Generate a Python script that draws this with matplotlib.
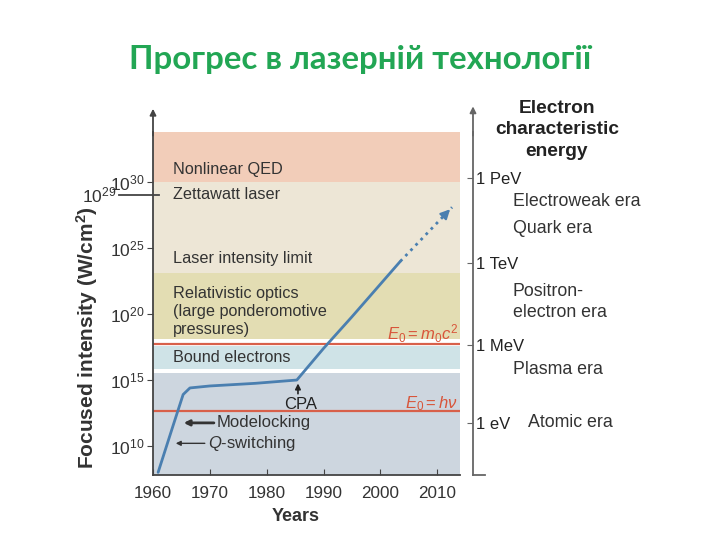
import matplotlib.pyplot as plt
import matplotlib.transforms as mtransforms

plt.rcParams['font.family'] = ['Liberation Sans', 'DejaVu Sans']
plt.rcParams['mathtext.fontset'] = 'custom'
plt.rcParams['mathtext.rm'] = 'Liberation Sans'
plt.rcParams['mathtext.it'] = 'Liberation Sans:italic'
plt.rcParams['mathtext.bf'] = 'Liberation Sans:bold'

# progress curve: year vs log10 of focused intensity (W/cm2)
years = [1960.9, 1963.5, 1965.3, 1966.5, 1970, 1978, 1985.3, 1990, 1995, 2003.5]
log_int = [8.0, 11.5, 13.9, 14.4, 14.55, 14.75, 15.0, 17.4, 19.8, 24.0]
future_years = [2003.5, 2012.6]
future_log = [24.0, 28.1]

# regimes as bands (log10 bounds)
band_lo = [30.0, 23.1, 18.1, 15.8, 7.8]
band_hi = [33.8, 30.0, 23.1, 17.6, 15.55]
band_colors = ['#f2cdb9', '#ede6d6', '#e3ddb3', '#cfe3e7', '#cdd6df']
band_labels = [('Nonlinear QED', 31.0), ('Zettawatt laser', 29.1),
               ('Laser intensity limit', 24.2),
               ('Relativistic optics\n(large ponderomotive\npressures)', 20.2),
               ('Bound electrons', 16.7)]

red_lines = [17.7, 12.65]
red_labels = [r'$E_0 = m_0c^2$', r'$E_0 = h\nu$']

x_ticks = [1960, 1970, 1980, 1990, 2000, 2010]
y_ticks = [10, 15, 20, 25, 30]

energy_ticks = [30.3, 23.9, 17.65, 11.75]
energy_labels = ['1 PeV', '1 TeV', '1 MeV', '1 eV']
eras = [('Electroweak era', 28.5), ('Quark era', 26.5),
        ('Positron-\nelectron era', 20.9), ('Plasma era', 15.8)]

fig = plt.figure(figsize=(7.2, 5.4), dpi=100)
ax = fig.add_axes([0.2125, 0.1204, 0.4264, 0.635])
ax.set_xlim(1960, 2014)
ax.set_ylim(7.8, 33.8)

for lo, hi, c in zip(band_lo, band_hi, band_colors):
    ax.axhspan(lo, hi, color=c, lw=0, zorder=0)
for txt, y in band_labels:
    ax.text(1963.5, y, txt, fontsize=11.7, color='#333333', va='center',
            linespacing=1.25)
for y in red_lines:
    ax.axhline(y, color='#d8604a', lw=1.6, zorder=1)
ax.text(2013.6, 18.5, red_labels[0], color='#d8553a', fontsize=12, ha='right', va='center')
ax.text(2013.6, 13.2, red_labels[1], color='#d8553a', fontsize=12, ha='right', va='center')

ax.plot(years, log_int, color='#4a7fb0', lw=2.0, solid_capstyle='round', zorder=3)
ax.plot(future_years, future_log, color='#4a7fb0', lw=2.0, ls=':', zorder=3)
ax.annotate('', xy=(future_years[1], future_log[1]), xytext=(2011.4, 27.56),
            arrowprops=dict(arrowstyle='-|>', color='#4a7fb0', lw=1.5,
                            mutation_scale=14), zorder=4)

# annotations
ax.annotate('', xy=(1985.5, 14.95), xytext=(1985.5, 13.75),
            arrowprops=dict(arrowstyle='-|>', color='#222222', lw=1.2, mutation_scale=8))
ax.text(1986.0, 13.15, 'CPA', fontsize=12, ha='center', va='center', color='#222222')
ax.annotate('Modelocking', xy=(1965.4, 11.75), xytext=(1971.2, 11.75),
            fontsize=12, va='center', color='#333333',
            arrowprops=dict(arrowstyle='-|>', color='#333333', lw=2.0, mutation_scale=8,
                            shrinkA=0, shrinkB=0))
ax.annotate(r'$Q$-switching', xy=(1964.0, 10.2), xytext=(1969.6, 10.2),
            fontsize=12, va='center', color='#333333',
            arrowprops=dict(arrowstyle='-|>', color='#333333', lw=1.0, mutation_scale=7,
                            shrinkA=0, shrinkB=0))

# axes styling
for s in ['top', 'right']:
    ax.spines[s].set_visible(False)
ax.spines['left'].set_color('#444444')
ax.spines['bottom'].set_color('#444444')
ax.spines['left'].set_linewidth(1.3)
ax.spines['bottom'].set_linewidth(1.3)
ax.annotate('', xy=(0, 1.068), xytext=(0, 0.99), xycoords='axes fraction',
            arrowprops=dict(arrowstyle='-|>', color='#444444', lw=1.3, mutation_scale=9,
                            shrinkA=0, shrinkB=0))
ax.set_xticks(x_ticks)
ax.set_xticklabels([str(v) for v in x_ticks], fontsize=12.3, color='#333333')
ax.tick_params(axis='x', direction='in', length=4, color='#444444', pad=8)
ax.set_yticks(y_ticks)
ax.set_yticklabels([r'$10^{%d}$' % v for v in y_ticks], fontsize=12.5, color='#333333')
ax.tick_params(axis='y', direction='out', length=4, color='#444444', pad=2)

# 10^29 marker
ytr = mtransforms.blended_transform_factory(ax.transAxes, ax.transData)
ax.plot([-0.11, 0.02], [29, 29], transform=ytr, color='#444444', lw=1.3, clip_on=False)
ax.text(-0.12, 29, r'$10^{29}$', fontsize=12.5, color='#333333', ha='right', va='center',
        transform=ytr)

ax.set_xlabel('Years', fontsize=13, fontweight='bold', color='#333333')
ax.xaxis.set_label_coords(0.465, -0.095)
ax.set_ylabel('Focused intensity (W/cm$^\\mathbf{2}$)', fontsize=15, fontweight='bold',
              color='#333333')
ax.yaxis.set_label_coords(-0.173, 0.40)

# right energy axis
ax2 = ax.twinx()
ax2.set_ylim(ax.get_ylim())
for s in ['top', 'left', 'bottom']:
    ax2.spines[s].set_visible(False)
ax2.spines['right'].set_position(('outward', 9.4))
ax2.spines['right'].set_color('#666666')
ax2.spines['right'].set_linewidth(1.3)
ax2.set_yticks(energy_ticks)
ax2.set_yticklabels(energy_labels, fontsize=12, color='#222222')
ax2.tick_params(axis='y', direction='in', length=4, color='#666666', pad=2)
ax2.annotate('', xy=(1.0423, 1.075), xytext=(1.0423, 0.99), xycoords='axes fraction',
             arrowprops=dict(arrowstyle='-|>', color='#666666', lw=1.3, mutation_scale=9,
                             shrinkA=0, shrinkB=0))
ax2.plot([1.0423, 1.08], [0, 0], transform=ax2.transAxes, color='#666666', lw=1.3, clip_on=False)

tr = mtransforms.blended_transform_factory(fig.transFigure, ax.transData)
for txt, y in eras:
    ax.text(513 / 720, y, txt, fontsize=12.8, color='#333333', va='center',
            transform=tr, linespacing=1.3)
ax.text(528 / 720, 11.75, 'Atomic era', fontsize=12.8, color='#333333', va='center', transform=tr)
fig.text(557 / 720, 1 - 130 / 540, 'Electron\ncharacteristic\nenergy', fontsize=13.8,
         fontweight='bold', ha='center', va='center', color='#222222', linespacing=1.38)

fig.text(0.5, 1 - 60 / 540, 'Прогрес в лазерній технології', fontsize=23.8,
         fontweight='bold', color='#22a654', ha='center', va='center',
         family=['Lato', 'Open Sans', 'DejaVu Sans'])

fig.savefig('out.png', dpi=100)
